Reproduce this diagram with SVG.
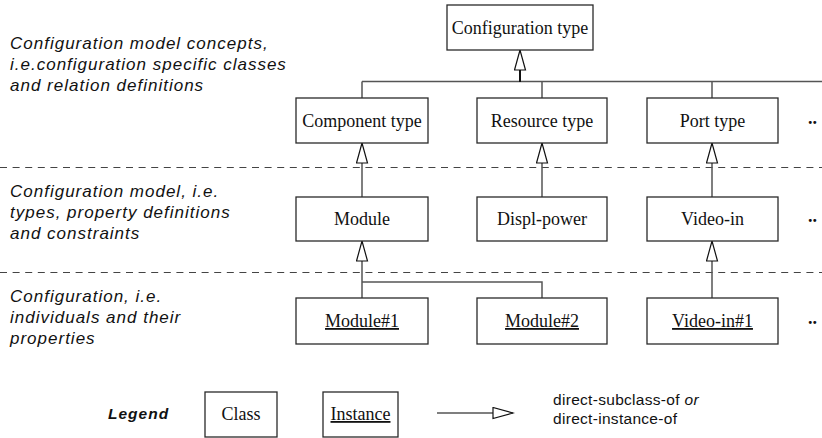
<svg xmlns="http://www.w3.org/2000/svg" width="822" height="438" viewBox="0 0 822 438">
  <defs>
    <style>
      .box { fill: #ffffff; stroke: #2a2a2a; stroke-width: 1.3; }
      .lbl { font-family: "Liberation Serif", "Times New Roman", serif; font-size: 18px; fill: #111; text-anchor: middle; }
      .inst { text-decoration: underline; }
      .note { font-family: "Liberation Sans", Arial, sans-serif; font-size: 17px; font-style: italic; letter-spacing: 1px; fill: #111; }
      .leg { font-family: "Liberation Sans", Arial, sans-serif; font-size: 15.5px; letter-spacing: 0.3px; fill: #111; }
      .legtitle { font-family: "Liberation Sans", Arial, sans-serif; font-size: 15.5px; font-style: italic; font-weight: bold; letter-spacing: 1px; fill: #111; }
      .sep { stroke: #444; stroke-width: 1.2; stroke-dasharray: 7 5.6; fill: none; }
      .link { stroke: #555; stroke-width: 1.5; fill: none; }
      .dots { font-family: "Liberation Serif", "Times New Roman", serif; font-size: 18px; font-weight: bold; fill: #111; }
    </style>
    <!-- hollow triangle head for subclass / instance-of links -->
    <marker id="hollow" markerUnits="userSpaceOnUse" viewBox="-1 -1 23 13" refX="20" refY="5.5" markerWidth="23" markerHeight="13" orient="auto">
      <path d="M0,0 L20,5.5 L0,11 Z" fill="#ffffff" stroke="#111" stroke-width="1.2" stroke-linejoin="miter"/>
    </marker>
  </defs>

  <rect width="822" height="438" fill="#ffffff"/>

  <!-- level descriptions -->
  <g id="level-notes">
    <text class="note" x="10" y="49">Configuration model concepts,</text>
    <text class="note" x="10" y="70">i.e.configuration specific classes</text>
    <text class="note" x="10" y="91">and relation definitions</text>
    <text class="note" x="10" y="197">Configuration model, i.e.</text>
    <text class="note" x="10" y="218">types, property definitions</text>
    <text class="note" x="10" y="239">and constraints</text>
    <text class="note" x="10" y="302">Configuration, i.e.</text>
    <text class="note" x="10" y="323">individuals and their</text>
    <text class="note" x="10" y="344">properties</text>
  </g>

  <!-- level separators -->
  <g id="separators">
    <line class="sep" x1="0" y1="167.5" x2="822" y2="167.5"/>
    <line class="sep" x1="0" y1="272.5" x2="822" y2="272.5"/>
  </g>

  <!-- connectors -->
  <g id="connectors">
    <line class="link" x1="362" y1="81.5" x2="822" y2="81.5"/>
    <line class="link" x1="362" y1="81.5" x2="362" y2="98"/>
    <line class="link" x1="542" y1="81.5" x2="542" y2="98"/>
    <line class="link" x1="712" y1="81.5" x2="712" y2="98"/>
    <line x1="520" y1="82" x2="520" y2="50" stroke="#111" stroke-width="2" marker-end="url(#hollow)"/>

    <line class="link" x1="362" y1="197" x2="362" y2="143" marker-end="url(#hollow)"/>
    <line class="link" x1="542" y1="197" x2="542" y2="143" marker-end="url(#hollow)"/>
    <line class="link" x1="712" y1="197" x2="712" y2="143" marker-end="url(#hollow)"/>

    <line class="link" x1="362" y1="298" x2="362" y2="241" marker-end="url(#hollow)"/>
    <polyline class="link" points="362,282 542,282 542,298"/>
    <line class="link" x1="712" y1="298" x2="712" y2="241" marker-end="url(#hollow)"/>

    <line class="link" x1="437" y1="413" x2="513" y2="413" marker-end="url(#hollow)"/>
  </g>

  <!-- concept level -->
  <g id="configuration-type">
    <rect class="box" x="447" y="5" width="146" height="45"/>
    <text class="lbl" x="520" y="33.5">Configuration type</text>
  </g>
  <g id="component-type">
    <rect class="box" x="296" y="98" width="132" height="45"/>
    <text class="lbl" x="362" y="126.5">Component type</text>
  </g>
  <g id="resource-type">
    <rect class="box" x="477" y="98" width="130" height="45"/>
    <text class="lbl" x="542" y="126.5">Resource type</text>
  </g>
  <g id="port-type">
    <rect class="box" x="647" y="98" width="131" height="45"/>
    <text class="lbl" x="712.5" y="126.5">Port type</text>
  </g>

  <!-- model level -->
  <g id="module">
    <rect class="box" x="296" y="197" width="132" height="44"/>
    <text class="lbl" x="362" y="225">Module</text>
  </g>
  <g id="displ-power">
    <rect class="box" x="477" y="197" width="130" height="44"/>
    <text class="lbl" x="542" y="225">Displ-power</text>
  </g>
  <g id="video-in">
    <rect class="box" x="647" y="197" width="131" height="44"/>
    <text class="lbl" x="712.5" y="225">Video-in</text>
  </g>

  <!-- instance level -->
  <g id="module-1">
    <rect class="box" x="296" y="298" width="132" height="46"/>
    <text class="lbl inst" x="362" y="327">Module#1</text>
  </g>
  <g id="module-2">
    <rect class="box" x="477" y="298" width="130" height="46"/>
    <text class="lbl inst" x="542" y="327">Module#2</text>
  </g>
  <g id="video-in-1">
    <rect class="box" x="647" y="298" width="131" height="46"/>
    <text class="lbl inst" x="712.5" y="327">Video-in#1</text>
  </g>

  <!-- continuation marks -->
  <g id="more">
    <text class="dots" x="808" y="124">..</text>
    <text class="dots" x="808" y="222">..</text>
    <text class="dots" x="808" y="324">..</text>
  </g>

  <!-- legend -->
  <g id="legend">
    <text class="legtitle" x="108" y="419">Legend</text>
    <g id="legend-class">
      <rect class="box" x="205" y="392" width="72" height="45"/>
      <text class="lbl" x="241" y="420">Class</text>
    </g>
    <g id="legend-instance">
      <rect class="box" x="323" y="392" width="75" height="45"/>
      <text class="lbl inst" x="360.5" y="420">Instance</text>
    </g>
    <text class="leg" x="553" y="405">direct-subclass-of <tspan font-style="italic">or</tspan></text>
    <text class="leg" x="553" y="424">direct-instance-of</text>
  </g>
</svg>
